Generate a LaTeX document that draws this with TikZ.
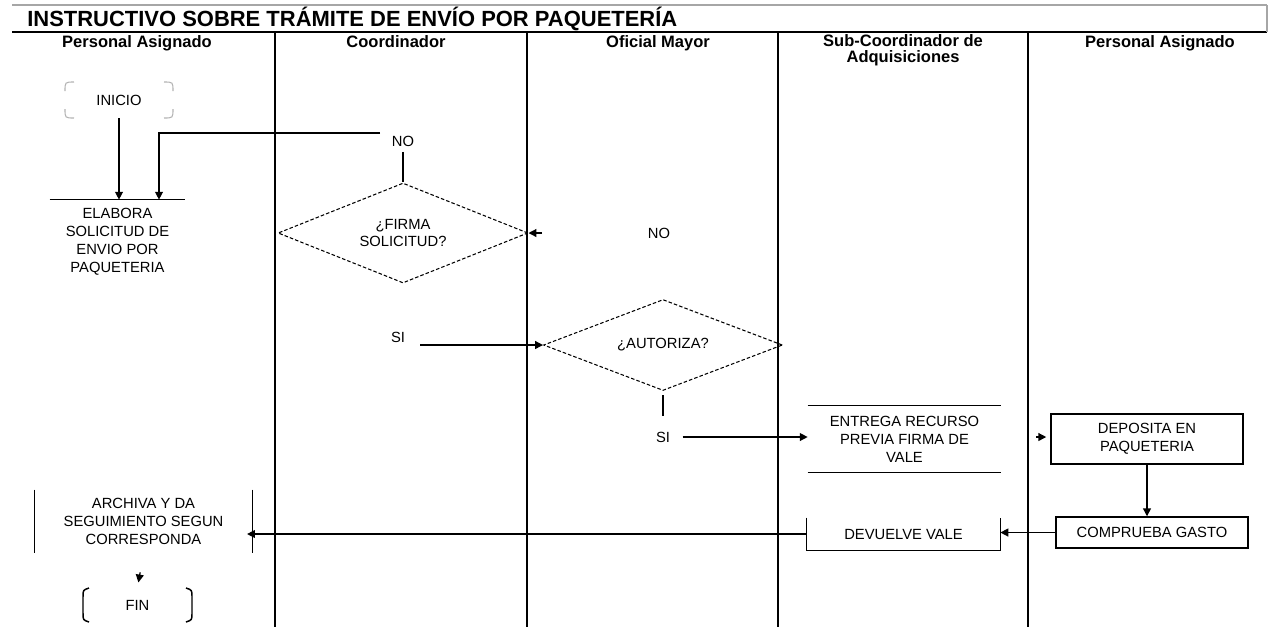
\documentclass[tikz,border=0pt]{standalone}
\usepackage{fontspec}
\setmainfont{Liberation Sans}
\usetikzlibrary{arrows.meta,shapes.geometric}
\begin{document}
\begin{tikzpicture}[x=0.02cm,y=-0.02cm,
 body/.style={font=\fontsize{8.4}{10.2}\selectfont, align=center, inner sep=0pt},
 hdr/.style={font=\bfseries\fontsize{9.4}{8.6}\selectfont, align=center, inner sep=0pt, anchor=base},
 lane/.style={line width=1.1pt},
 conn/.style={line width=0.75pt},
 arr/.style={conn,-{Triangle[length=4.5pt,width=4.5pt]}},
 box/.style={line width=0.85pt},
 deci/.style={draw, diamond, dash pattern=on 2pt off 1.2pt, line width=0.6pt, inner sep=0pt,
   font=\fontsize{8.4}{10.2}\selectfont, align=center},
 corner/.style={gray!60, line width=0.6pt}
]
\useasboundingbox (0,0) rectangle (1270,627);
% title frame
\draw[gray!70, line width=1.1pt] (12,5) -- (1267,5);
\draw[line width=1.1pt] (12,32) -- (1267,32);
\draw[gray!70, line width=0.8pt] (1267,5) -- (1267,32);
\node[anchor=west, font=\bfseries\fontsize{12.5}{14}\selectfont, inner sep=0pt] (title) at (27,19)
  {INSTRUCTIVO SOBRE TRÁMITE DE ENVÍO POR PAQUETERÍA};
% lanes
\foreach \xx in {275,527,778,1028} \draw[lane] (\xx,32) -- (\xx,627);
% headers
\node[hdr] (h1) at (137,47) {Personal Asignado};
\node[hdr] (h2) at (396,47) {Coordinador};
\node[hdr] (h3) at (658,47) {Oficial Mayor};
\node[hdr] (h4) at (903,62) {Sub-Coordinador de\\Adquisiciones};
\node[hdr] (h5) at (1160,47) {Personal Asignado};

% INICIO
\node[body, minimum width=2.16cm, minimum height=0.72cm] (inicio) at (119,100) {INICIO};
\draw[corner] (65,91) .. controls (65,82) .. (74,82);
\draw[corner] (164,82) .. controls (173,82) .. (173,91);
\draw[corner] (173,109) .. controls (173,118) .. (164,118);
\draw[corner] (74,118) .. controls (65,118) .. (65,109);

% ELABORA
\node[body, minimum width=2.7cm, minimum height=1.68cm] (elab) at (117.5,242)
  {ELABORA\\SOLICITUD DE\\ENVIO POR\\PAQUETERIA};
\draw[box] (elab.north west) -- (elab.north east);

% NO 1
\node[body] (no1) at (403,141) {NO};
\coordinate (c1) at (380,133);
\coordinate (c2) at (159,133);

% FIRMA diamond
\node[deci, shape aspect=2.5, minimum width=5cm, minimum height=2cm] (firma) at (403,233) {¿FIRMA\\SOLICITUD?};

% NO 2
\node[body] (no2) at (659,233) {NO};
\coordinate (c5) at (542,233);

% SI 1
\node[body] (si1) at (398,337) {SI};
\coordinate (c3) at (420,345);

% AUTORIZA diamond
\node[deci, shape aspect=2.63, minimum width=4.78cm, minimum height=1.82cm] (autoriza) at (663,345) {¿AUTORIZA?};

% SI 2
\node[body] (si2) at (663,437) {SI};

% ENTREGA
\node[body, minimum width=3.86cm, minimum height=1.32cm] (entrega) at (904.5,439)
  {ENTREGA RECURSO\\PREVIA FIRMA DE\\VALE};
\draw[box] (entrega.north west) -- (entrega.north east);
\draw[box] (entrega.south west) -- (entrega.south east);

% DEPOSITA
\node[body, draw, box, minimum width=3.84cm, minimum height=1cm] (depo) at (1147,439)
  {DEPOSITA EN\\PAQUETERIA};
\coordinate (c4) at (1036,437);

% COMPRUEBA
\node[body, draw, box, minimum width=3.84cm, minimum height=0.62cm] (compr) at (1152,532.5)
  {COMPRUEBA GASTO};

% DEVUELVE
\node[body, minimum width=3.86cm, minimum height=0.64cm] (devu) at (903.5,534) {DEVUELVE VALE};
\draw[box] (devu.north west) -- (devu.south west) -- (devu.south east) -- (devu.north east);

% ARCHIVA
\node[body, minimum width=4.34cm, minimum height=1.26cm] (arch) at (143.5,521.5)
  {ARCHIVA Y DA\\SEGUIMIENTO SEGUN\\CORRESPONDA};
\draw[box] (arch.north west) -- (arch.south west);
\draw[box] (arch.north east) -- (arch.south east);

% FIN
\node[body, minimum width=2.18cm, minimum height=0.68cm] (fin) at (137.5,605) {FIN};
\draw[box] (89,588) .. controls (83,590) .. (83,597) -- (83,613) .. controls (83,620) .. (89,622);
\draw[box] (186,588) .. controls (192,590) .. (192,597) -- (192,613) .. controls (192,620) .. (186,622);

% connectors
\draw[arr] (inicio.south) -- (inicio.south |- elab.north);
\draw[arr] (c1) -- (c2) -- (c2 |- elab.north);
\draw[conn, shorten <=3pt] (no1.south) -- (firma.north);
\draw[arr] (c5) -- (firma.east);
\draw[arr] (c3) -- (autoriza.west);
\draw[conn, shorten <=2.3pt, shorten >=9pt] (autoriza.south) -- (si2.north);
\draw[arr, shorten <=7pt] (si2.east) -- (si2.east -| entrega.west);
\draw[arr, shorten >=2.3pt] (c4) -- (c4 -| depo.west);
\draw[arr] (depo.south) -- (depo.south |- compr.north);
\draw[arr] (compr.west) -- (compr.west -| devu.east);
\draw[arr, line width=0.6pt, shorten >=-3pt] (devu.west) -- (devu.west -| arch.east);
\draw[arr, shorten <=11pt, shorten >=3pt] (arch.south) -- (fin.north);
\end{tikzpicture}
\end{document}
